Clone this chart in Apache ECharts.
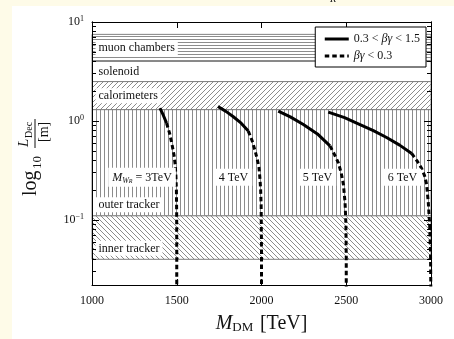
<!DOCTYPE html>
<html>
<head>
<meta charset="utf-8">
<script src="https://cdn.jsdelivr.net/npm/echarts@6/dist/echarts.min.js"></script>
<style>
html, body { margin: 0; padding: 0; background: #fefbe8; }
#paper { position: absolute; left: 12px; top: 6px; right: 0; bottom: 0; background: #fff; }
#main { position: absolute; left: 0; top: 0; width: 454px; height: 339px; }
</style>
</head>
<body>
<div id="paper"></div>
<div id="main"></div>
<script>
// detector regions (metres)
var detectors = ['muon chambers', 'solenoid', 'calorimeters', 'outer tracker', 'inner tracker'];
var detLow = [4.0, 2.5, 1.3, 0.11, 0.04];
var detHigh = [7.5, 4.0, 2.5, 1.3, 0.11];

// W_R masses (TeV) for the curve labels
var wrMasses = [3, 4, 5, 6];

// decay length curves: M_DM [TeV] vs L_Dec [m]
var m3Solid = [1401, 1420, 1440];
var l3Solid = [1.35, 1.15, 0.95];
var m3Dash = [1440, 1458, 1472, 1484, 1491, 1495, 1498, 1499.5, 1500, 1500];
var l3Dash = [0.95, 0.75, 0.58, 0.45, 0.36, 0.28, 0.2, 0.12, 0.05, 0.01];

var m4Solid = [1743, 1790, 1832, 1880, 1922];
var l4Solid = [1.40, 1.25, 1.11, 0.95, 0.79];
var m4Dash = [1922, 1945, 1962, 1975, 1985, 1991, 1995, 1998, 2000, 2000];
var l4Dash = [0.79, 0.63, 0.50, 0.41, 0.34, 0.26, 0.2, 0.14, 0.05, 0.01];

var m5Solid = [2099, 2170, 2247, 2330, 2404];
var l5Solid = [1.26, 1.10, 0.92, 0.74, 0.56];
var m5Dash = [2404, 2430, 2453, 2470, 2483, 2493, 2498, 2500, 2500];
var l5Dash = [0.56, 0.46, 0.38, 0.30, 0.23, 0.15, 0.09, 0.04, 0.01];

var m6Solid = [2394, 2490, 2581, 2660, 2738, 2815, 2886];
var l6Solid = [1.23, 1.08, 0.92, 0.80, 0.68, 0.57, 0.47];
var m6Dash = [2886, 2920, 2945, 2962, 2974, 2984, 2992, 2997, 2999, 2999];
var l6Dash = [0.47, 0.39, 0.33, 0.28, 0.23, 0.15, 0.09, 0.05, 0.02, 0.01];

// axis ranges and ticks
var yMin = 0.022, yMax = 10;
var yMajorTicks = [0.1, 1, 10];
var yMinorTicks = [0.03, 0.04, 0.05, 0.06, 0.07, 0.08, 0.09,
                   0.2, 0.3, 0.4, 0.5, 0.6, 0.7, 0.8, 0.9,
                   2, 3, 4, 5, 6, 7, 8, 9];

var solidName = 'solid', dashName = 'dashed';
var serif = "'Liberation Serif', 'DejaVu Serif', serif";

function zip(a, b) {
    return a.map(function (v, i) { return [v, b[i]]; });
}

// small canvas tiles used as hatch fills
function hatch(kind) {
    var s = kind === 'h' ? 3 : (kind === 'v' ? 4 : 5);
    var c = document.createElement('canvas');
    c.width = s; c.height = s;
    var g = c.getContext('2d');
    g.fillStyle = '#fff';
    g.fillRect(0, 0, s, s);
    g.strokeStyle = '#8c8c8c';
    g.lineWidth = 1;
    g.beginPath();
    if (kind === 'h') {
        g.moveTo(0, 0.5); g.lineTo(s, 0.5);
    } else if (kind === 'v') {
        g.moveTo(0.5, 0); g.lineTo(0.5, s);
    } else if (kind === '/') {
        g.moveTo(0, s); g.lineTo(s, 0);
        g.moveTo(-1, 1); g.lineTo(1, -1);
        g.moveTo(s - 1, s + 1); g.lineTo(s + 1, s - 1);
    } else {
        g.moveTo(0, 0); g.lineTo(s, s);
        g.moveTo(-1, s - 1); g.lineTo(1, s + 1);
        g.moveTo(s - 1, -1); g.lineTo(s + 1, 1);
    }
    g.stroke();
    return { image: c, repeat: 'repeat' };
}

var fills = [hatch('h'), '#fff', hatch('/'), hatch('v'), hatch('\\')];
var labelPos = ['insideLeft', 'insideLeft', 'insideLeft', 'insideBottomLeft', 'insideBottomLeft'];

var areaData = detectors.map(function (name, i) {
    return [{
        name: name,
        yAxis: detLow[i],
        itemStyle: { color: fills[i], borderColor: '#808080', borderWidth: 1 },
        label: { position: labelPos[i] }
    }, { yAxis: detHigh[i] }];
});

var myChart = echarts.init(document.getElementById('main'), null, { renderer: 'canvas' });

function yAxisDef(pos, major) {
    return {
        type: 'log',
        logBase: 10,
        min: yMin,
        max: yMax,
        position: pos,
        z: 10,
        axisLine: { show: true, lineStyle: { color: '#000', width: 1 } },
        axisTick: {
            show: true,
            inside: true,
            length: major ? 7 : 4,
            customValues: major ? yMajorTicks : yMinorTicks,
            lineStyle: { color: '#000', width: 1 }
        },
        axisLabel: {
            show: major && pos === 'left',
            customValues: yMajorTicks,
            margin: 8,
            formatter: function (v) {
                var e = Math.round(Math.log10(v));
                return '{b|10}{s|' + (e < 0 ? '\u2212' + (-e) : e) + '}';
            },
            rich: {
                b: { fontFamily: serif, fontSize: 12, color: '#111', lineHeight: 14 },
                s: { fontFamily: serif, fontSize: 8, color: '#111', verticalAlign: 'top', lineHeight: 8 }
            }
        },
        splitLine: { show: false }
    };
}

function xAxisDef(pos) {
    var bottom = pos === 'bottom';
    return {
        type: 'value',
        min: 1000,
        max: 3000,
        interval: 500,
        position: pos,
        z: 10,
        axisLine: { show: true, lineStyle: { color: '#000', width: 1 } },
        axisTick: { show: true, inside: true, length: 6, lineStyle: { color: '#000' } },
        axisLabel: {
            show: bottom, margin: 10, fontFamily: serif, fontSize: 12, color: '#111',
            formatter: function (v) { return String(v); }
        },
        splitLine: { show: false },
        name: bottom ? '{m|M}{s|DM}  {t|[TeV]}' : '',
        nameLocation: 'middle',
        nameGap: 28,
        nameTextStyle: {
            rich: {
                m: { fontFamily: serif, fontStyle: 'italic', fontSize: 20, color: '#111' },
                s: { fontFamily: serif, fontSize: 13, color: '#111', verticalAlign: 'bottom', padding: [8, 0, 0, 0] },
                t: { fontFamily: serif, fontSize: 20, color: '#111' }
            }
        }
    };
}

function curve(name, m, l, dashed) {
    return {
        name: name,
        type: 'line',
        data: zip(m, l),
        symbol: 'none',
        smooth: false,
        clip: true,
        z: 3,
        color: '#000',
        lineStyle: { color: '#000', width: 3, type: dashed ? [4.5, 3] : 'solid' }
    };
}

option = {
    animation: false,
    backgroundColor: 'transparent',
    grid: { left: 92, right: 23, top: 22, bottom: 50 },
    xAxis: [xAxisDef('bottom'), xAxisDef('top')],
    yAxis: [yAxisDef('left', true), yAxisDef('left', false), yAxisDef('right', true), yAxisDef('right', false)],
    legend: {
        data: [solidName, dashName],
        orient: 'vertical',
        right: 28,
        top: 27,
        z: 12,
        backgroundColor: '#fff',
        borderColor: '#000',
        borderWidth: 1,
        borderRadius: 0,
        padding: [6, 6, 5, 8],
        itemGap: 5,
        itemWidth: 24,
        itemHeight: 10,
        itemStyle: { opacity: 0 },
        lineStyle: { width: 3 },
        formatter: function (name) {
            return name === solidName ? '0.3 < {i|\u03b2\u03b3} < 1.5' : '{i|\u03b2\u03b3} < 0.3';
        },
        textStyle: {
            fontFamily: serif,
            fontSize: 12,
            color: '#111',
            rich: { i: { fontFamily: serif, fontStyle: 'italic', fontSize: 12, color: '#111' } }
        }
    },
    series: [
        {
            name: 'detectors',
            type: 'line',
            data: [],
            silent: true,
            z: 1,
            markArea: {
                silent: true,
                label: {
                    show: true,
                    distance: 4,
                    fontFamily: serif,
                    fontSize: 12,
                    color: '#111',
                    backgroundColor: '#fff',
                    padding: [2, 3, 1, 3]
                },
                data: areaData
            }
        },
        curve(solidName, m3Solid, l3Solid, false),
        curve(dashName, m3Dash, l3Dash, true),
        curve(solidName, m4Solid, l4Solid, false),
        curve(dashName, m4Dash, l4Dash, true),
        curve(solidName, m5Solid, l5Solid, false),
        curve(dashName, m5Dash, l5Dash, true),
        curve(solidName, m6Solid, l6Solid, false),
        curve(dashName, m6Dash, l6Dash, true),
        {
            name: 'mass labels',
            type: 'line',
            data: [],
            silent: true,
            z: 5,
            markPoint: {
                silent: true,
                symbol: 'rect',
                symbolSize: 1,
                itemStyle: { color: 'rgba(0,0,0,0)' },
                label: {
                    show: true,
                    position: 'inside',
                    fontFamily: serif,
                    fontSize: 12,
                    color: '#111',
                    backgroundColor: '#fff',
                    padding: [3, 4, 2, 4],
                    formatter: function (p) {
                        return p.name === '3' ? '{m|M}{w|W}{r|R}{t| = 3TeV}' : p.name + ' TeV';
                    },
                    rich: {
                        m: { fontFamily: serif, fontStyle: 'italic', fontSize: 12, color: '#111' },
                        w: { fontFamily: serif, fontStyle: 'italic', fontSize: 8, color: '#111', verticalAlign: 'bottom', padding: [5, 0, 0, 0] },
                        r: { fontFamily: serif, fontStyle: 'italic', fontSize: 6, color: '#111', verticalAlign: 'bottom', padding: [8, 0, 0, 0] },
                        t: { fontFamily: serif, fontSize: 12, color: '#111' }
                    }
                },
                data: wrMasses.map(function (w, i) {
                    var xs = [1295, 1835, 2330, 2832];
                    return { name: String(w), coord: [xs[i], 0.27] };
                })
            }
        }
    ],
    graphic: [
        {
            type: 'group',
            x: 31,
            y: 150,
            rotation: Math.PI / 2,
            children: [
                { type: 'text', x: -46, y: 0, style: { text: 'log', font: '20px ' + serif, fill: '#111', verticalAlign: 'middle' } },
                { type: 'text', x: -19, y: 7, style: { text: '10', font: '13px ' + serif, fill: '#111', verticalAlign: 'middle' } },
                { type: 'text', x: 3, y: 1, style: { text: 'L', font: 'italic 15px ' + serif, fill: '#111', verticalAlign: 'bottom' } },
                { type: 'text', x: 12, y: 3, style: { text: 'Dec', font: '10px ' + serif, fill: '#111', verticalAlign: 'bottom' } },
                { type: 'line', shape: { x1: 2, y1: 4, x2: 31, y2: 4 }, style: { stroke: '#111', lineWidth: 1 } },
                { type: 'text', x: 8, y: 6, style: { text: '[m]', font: '14px ' + serif, fill: '#111', verticalAlign: 'top' } }
            ]
        },
        {
            type: 'text',
            x: 330,
            y: -6,
            style: { text: 'R', font: 'italic 10px ' + serif, fill: '#111' }
        }
    ]
};
myChart.setOption(option);
window.addEventListener('resize', function () {
    myChart.resize();
});
</script>
</body>
</html>
